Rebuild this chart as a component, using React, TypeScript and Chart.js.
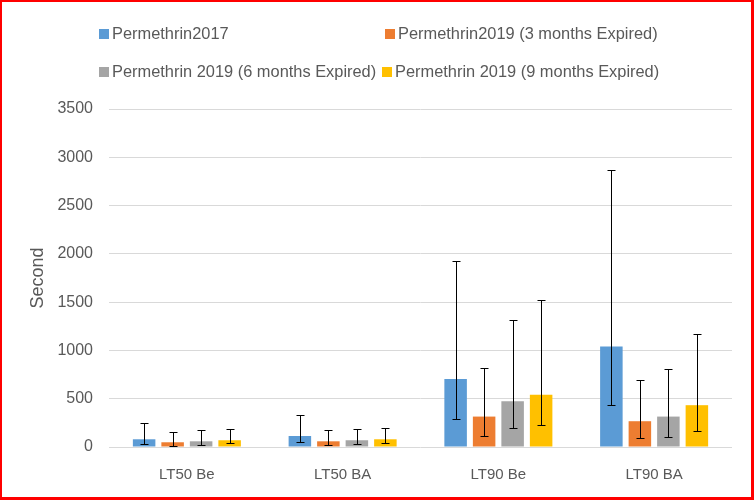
import React, { useEffect, useRef } from "react";
import { Chart, registerables } from "chart.js";

Chart.register(...registerables);

const FONT = "'Liberation Sans', Arial, sans-serif";
const TEXT_COLOR = "#595959";

const categories = ["LT50 Be", "LT50 BA", "LT90 Be", "LT90 BA"];
const seriesNames = [
  "Permethrin2017",
  "Permethrin2019 (3 months Expired)",
  "Permethrin 2019 (6 months Expired)",
  "Permethrin 2019 (9 months Expired)",
];
const seriesColors = ["#5B9BD5", "#ED7D31", "#A5A5A5", "#FFC000"];

const permethrin2017 = [80, 114, 705, 1041];
const permethrin2017Low = [35, 49, 287, 440];
const permethrin2017High = [253, 332, 1930, 2867];

const expired3m = [49, 59, 315, 267];
const expired3mLow = [14, 25, 111, 90];
const expired3mHigh = [156, 177, 820, 692];

const expired6m = [59, 70, 474, 315];
const expired6mLow = [25, 28, 201, 101];
const expired6mHigh = [177, 187, 1314, 803];

const expired9m = [70, 80, 540, 433];
const expired9mLow = [38, 45, 232, 166];
const expired9mHigh = [187, 201, 1522, 1166];

const yMin = 0;
const yMax = 3500;
const yStep = 500;
const yTitle = "Second";

const seriesValues = [permethrin2017, expired3m, expired6m, expired9m];
const seriesLow = [permethrin2017Low, expired3mLow, expired6mLow, expired9mLow];
const seriesHigh = [permethrin2017High, expired3mHigh, expired6mHigh, expired9mHigh];

const errorBarPlugin = {
  id: "errorBars",
  afterDatasetsDraw(chart: any) {
    const ctx = chart.ctx;
    const yScale = chart.scales.y;
    chart.data.datasets.forEach((ds: any, i: number) => {
      const meta = chart.getDatasetMeta(i);
      meta.data.forEach((bar: any, j: number) => {
        const lo = ds.errLow[j];
        const hi = ds.errHigh[j];
        const x = Math.round(bar.x) + 0.5;
        const yl = Math.round(yScale.getPixelForValue(lo)) + 0.5;
        const yh = Math.round(yScale.getPixelForValue(hi)) + 0.5;
        ctx.save();
        ctx.strokeStyle = "#000000";
        ctx.lineWidth = 1;
        ctx.beginPath();
        ctx.moveTo(x, yh);
        ctx.lineTo(x, yl);
        ctx.moveTo(x - 4, yh);
        ctx.lineTo(x + 4, yh);
        ctx.moveTo(x - 4, yl);
        ctx.lineTo(x + 4, yl);
        ctx.stroke();
        ctx.restore();
      });
    });
  },
};

const legendLayout = [
  { left: 99, top: 33.5 },
  { left: 385, top: 33.5 },
  { left: 99, top: 71 },
  { left: 382, top: 71 },
];

export default function App() {
  const canvasRef = useRef<HTMLCanvasElement | null>(null);

  useEffect(() => {
    if (!canvasRef.current) return;
    const chart = new Chart(canvasRef.current, {
      type: "bar",
      data: {
        labels: categories,
        datasets: seriesNames.map((name, i) => ({
          label: name,
          data: seriesValues[i],
          backgroundColor: seriesColors[i],
          borderWidth: 0,
          categoryPercentage: 0.732,
          barPercentage: 0.79,
          errLow: seriesLow[i],
          errHigh: seriesHigh[i],
        })) as any,
      },
      options: {
        animation: false,
        responsive: false,
        maintainAspectRatio: false,
        layout: { padding: { top: 107, right: 19, bottom: 0, left: 0 } },
        plugins: {
          legend: { display: false },
          tooltip: { enabled: false },
        },
        scales: {
          x: {
            grid: { display: false, drawTicks: false },
            border: { display: false },
            ticks: {
              color: TEXT_COLOR,
              font: { family: FONT, size: 15 },
              padding: 19,
            },
            afterFit(s: any) {
              s.height = 50;
            },
          },
          y: {
            min: yMin,
            max: yMax,
            grid: { color: "#d9d9d9", lineWidth: 1, drawTicks: false },
            border: { display: false },
            ticks: {
              stepSize: yStep,
              color: TEXT_COLOR,
              font: { family: FONT, size: 16 },
              padding: 16,
              callback: (v: any) => String(v),
            },
            title: {
              display: true,
              text: yTitle,
              color: TEXT_COLOR,
              font: { family: FONT, size: 18 },
              padding: { top: 25, bottom: 0 },
            },
            afterFit(s: any) {
              s.width = 107;
            },
          },
        },
      },
      plugins: [errorBarPlugin],
    });
    return () => chart.destroy();
  }, []);

  return (
    <div
      style={{
        position: "absolute",
        left: 0,
        top: 0,
        width: 754,
        height: 500,
        boxSizing: "border-box",
        borderStyle: "solid",
        borderColor: "#ff0000",
        borderWidth: "2px 3px 3px 2px",
        background: "#ffffff",
      }}
    >
      <canvas
        ref={canvasRef}
        width={749}
        height={495}
        style={{ display: "block", width: 749, height: 495 }}
      />
      {seriesNames.map((name, i) => (
        <div
          key={name}
          style={{
            position: "absolute",
            left: legendLayout[i].left - 2,
            top: legendLayout[i].top - 2 - 11,
            height: 22,
            display: "flex",
            alignItems: "center",
            fontFamily: FONT,
            fontSize: 16.4,
            color: TEXT_COLOR,
            whiteSpace: "nowrap",
          }}
        >
          <span
            style={{
              display: "inline-block",
              width: 10,
              height: 10,
              background: seriesColors[i],
              marginRight: 3,
              marginTop: 1,
            }}
          />
          <span>{name}</span>
        </div>
      ))}
    </div>
  );
}
